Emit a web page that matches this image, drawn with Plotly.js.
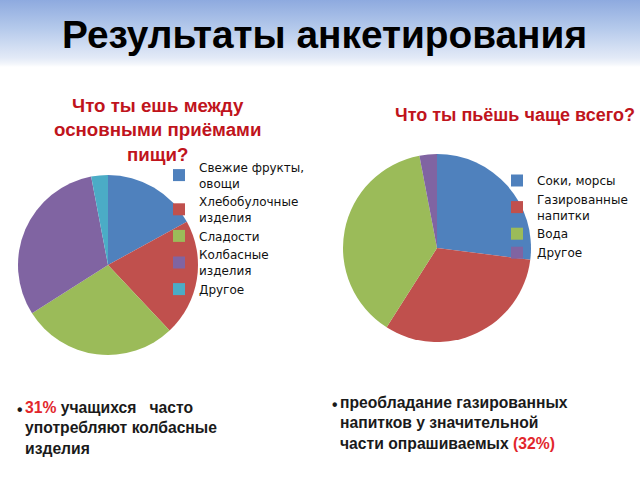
<!DOCTYPE html>
<html>
<head>
<meta charset="utf-8">
<script src="https://cdn.plot.ly/plotly-3.0.1.min.js"></script>
<style>
  html, body { margin: 0; padding: 0; background: #ffffff; }
  #chart {
    width: 640px; height: 480px;
    background: linear-gradient(to bottom, #8eaadf 0px, #b4c9eb 28px, #e3eaf7 58px, #f3f6fb 64px, #ffffff 67px, #ffffff 100%);
  }
</style>
</head>
<body>
<div id="chart"></div>
<script>
// ---- data ----
const foodLabels = ['Свежие фрукты,<br>овощи', 'Хлебобулочные<br>изделия', 'Сладости', 'Колбасные<br>изделия', 'Другое'];
const foodValues = [17, 21, 28, 31, 3];
const foodColors = ['#4F81BD', '#C0504D', '#9BBB59', '#8064A2', '#4BACC6'];

// the zero-width space keeps this "Другое" apart from the first pie's "Другое" in the legends
const drinkLabels = ['Соки, морсы', 'Газированные<br>напитки', 'Вода', 'Другое\u200b'];
const drinkValues = [27, 32, 38, 3];
const drinkColors = ['#4F81BD', '#C0504D', '#9BBB59', '#8064A2'];

const mainTitle = 'Результаты анкетирования';
const foodTitle = 'Что ты ешь между<br>основными приёмами<br>пищи?';
const drinkTitle = 'Что ты пьёшь чаще всего?';
const foodNote = '<span style="color:#e2262c">31%</span> учащихся\u00a0\u00a0 часто<br>употребляют колбасные<br>изделия';
const drinkNote = 'преобладание газированных<br>напитков у значительной<br>части опрашиваемых <span style="color:#e2262c">(32%)</span>';

const W = 640, H = 480;
const px = v => v / W;
const py = v => 1 - v / H;

const traces = [
  {
    type: 'pie', labels: foodLabels, values: foodValues,
    marker: { colors: foodColors, line: { width: 0 } },
    sort: false, direction: 'clockwise', rotation: 0,
    textinfo: 'none', hoverinfo: 'none',
    domain: { x: [px(18), px(198)], y: [py(355), py(175)] },
    legend: 'legend'
  },
  {
    type: 'pie', labels: drinkLabels, values: drinkValues,
    marker: { colors: drinkColors, line: { width: 0 } },
    sort: false, direction: 'clockwise', rotation: 0,
    textinfo: 'none', hoverinfo: 'none',
    domain: { x: [px(343), px(531)], y: [py(342), py(154)] },
    legend: 'legend2'
  }
];

const legendFont = { family: 'DejaVu Sans, Liberation Sans, sans-serif', size: 12, color: '#111111' };
const noteFont = { family: 'Liberation Sans, Arial, sans-serif', size: 15.7, color: '#1a1a1a', weight: 'bold' };

const layout = {
  width: W, height: H,
  margin: { l: 0, r: 0, t: 0, b: 0 },
  paper_bgcolor: 'rgba(0,0,0,0)',
  plot_bgcolor: 'rgba(0,0,0,0)',
  showlegend: true,
  legend: {
    x: px(159), y: py(153), xanchor: 'left', yanchor: 'top',
    font: legendFont, bgcolor: 'rgba(0,0,0,0)', borderwidth: 0
  },
  legend2: {
    x: px(497), y: py(166), xanchor: 'left', yanchor: 'top',
    font: legendFont, bgcolor: 'rgba(0,0,0,0)', borderwidth: 0
  },
  annotations: [
    { text: '<b>' + mainTitle + '</b>', x: px(324), y: py(35), xref: 'paper', yref: 'paper',
      xanchor: 'center', yanchor: 'middle', showarrow: false,
      font: { family: 'Liberation Sans, Arial, sans-serif', size: 38.8, color: '#000000' } },
    { text: '<b>' + foodTitle + '</b>', x: px(157), y: py(130), xref: 'paper', yref: 'paper',
      xanchor: 'center', yanchor: 'middle', showarrow: false, align: 'center',
      font: { family: 'Liberation Sans, Arial, sans-serif', size: 18.7, color: '#c0141c' } },
    { text: '<b>' + drinkTitle + '</b>', x: px(515), y: py(115), xref: 'paper', yref: 'paper',
      xanchor: 'center', yanchor: 'middle', showarrow: false,
      font: { family: 'Liberation Sans, Arial, sans-serif', size: 18, color: '#c0141c' } },
    { text: '•', x: px(15), y: py(409), xref: 'paper', yref: 'paper',
      xanchor: 'left', yanchor: 'middle', showarrow: false, font: noteFont },
    { text: foodNote, x: px(23), y: py(428), xref: 'paper', yref: 'paper',
      xanchor: 'left', yanchor: 'middle', showarrow: false, align: 'left', font: noteFont },
    { text: '•', x: px(330), y: py(404), xref: 'paper', yref: 'paper',
      xanchor: 'left', yanchor: 'middle', showarrow: false, font: noteFont },
    { text: drinkNote, x: px(338), y: py(423), xref: 'paper', yref: 'paper',
      xanchor: 'left', yanchor: 'middle', showarrow: false, align: 'left', font: noteFont }
  ]
};

Plotly.newPlot('chart', traces, layout, { displayModeBar: false, staticPlot: true });
</script>
</body>
</html>
